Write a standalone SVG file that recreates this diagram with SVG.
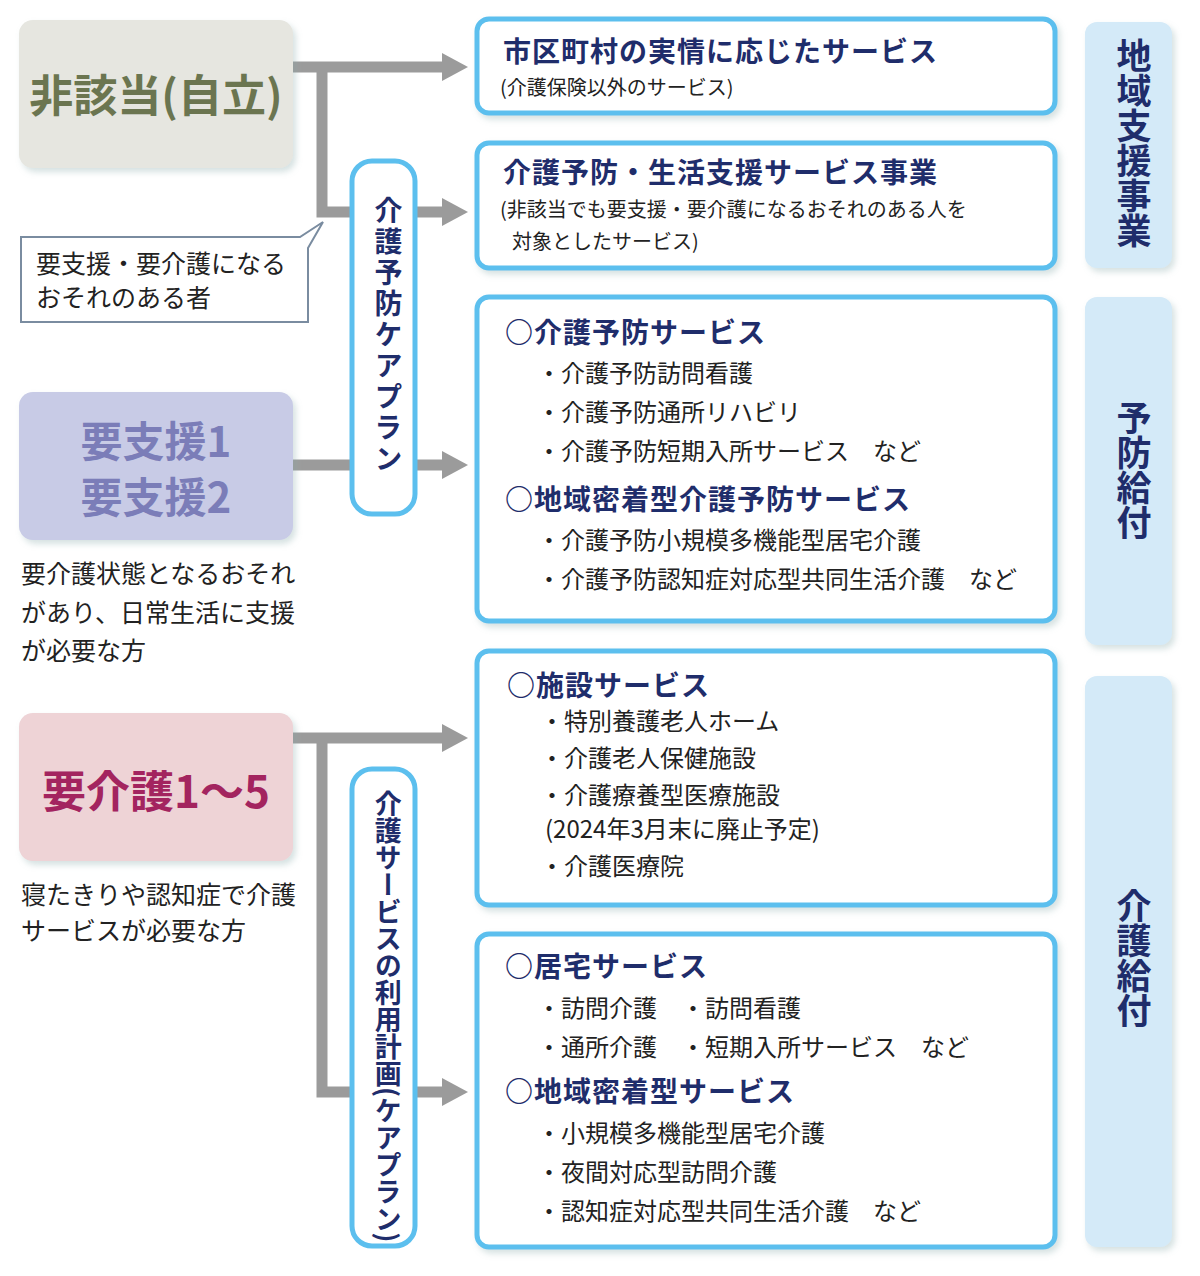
<svg xmlns="http://www.w3.org/2000/svg" width="1200" height="1276" viewBox="0 0 1200 1276">
<style>
text{font-family:"Noto Sans CJK JP","Noto Sans",sans-serif}
.ln{fill:none;stroke:#9b9b9b;stroke-width:11}
.ah{fill:#9b9b9b}
.box{fill:#fff;stroke:#5cbfee;stroke-width:5}
.pill{fill:#fff;stroke:#5cbfee;stroke-width:5}
.side{fill:#d4eaf8}
.t{font-size:28px;font-weight:bold;fill:#1f2d6b;letter-spacing:1px}
.s{font-size:20px;fill:#222}
.i{font-size:24px;fill:#222}
.v{font-size:28px;font-weight:bold;fill:#1f2d6b}
.sv{font-size:35px;font-weight:bold;fill:#1f2d6b}
.d{font-size:25px;fill:#222}
</style>
<defs>
<filter id="sh" x="-10%" y="-10%" width="130%" height="130%"><feDropShadow dx="3" dy="4" stdDeviation="3" flood-color="#8aa" flood-opacity="0.35"/></filter>
</defs>
<g id="connectors">
<path class="ln" d="M293 67H444M322 67V212H444"/>
<polygon class="ah" points="442,53 468,67 442,81"/>
<polygon class="ah" points="442,198 468,212 442,226"/>
<path class="ln" d="M293 465H444"/>
<polygon class="ah" points="442,451 468,465 442,479"/>
<path class="ln" d="M293 738H444M322 738V1092H444"/>
<polygon class="ah" points="442,724 468,738 442,752"/>
<polygon class="ah" points="442,1078 468,1092 442,1106"/>
</g>
<g id="hi">
<rect x="19" y="20" width="274" height="148" rx="14" fill="#e6e6e0" filter="url(#sh)"/>
<text x="156" y="112" text-anchor="middle" font-size="44" font-weight="bold" fill="#6b7550">非該当(自立)</text>
</g>
<g id="callout">
<path d="M21 237H300L323 222L308 248V322H21Z" fill="#fff" stroke="#7a8ca0" stroke-width="2"/>
<text x="36" y="273" class="d">要支援・要介護になる</text>
<text x="36" y="307" class="d">おそれのある者</text>
</g>
<g id="yoshien">
<rect x="19" y="392" width="274" height="148" rx="14" fill="#c8cbe6" filter="url(#sh)"/>
<text x="156" y="457" text-anchor="middle" font-size="42" font-weight="bold" fill="#7b7db8">要支援1</text>
<text x="156" y="513" text-anchor="middle" font-size="42" font-weight="bold" fill="#7b7db8">要支援2</text>
<text x="21" y="583" class="d">要介護状態となるおそれ</text>
<text x="21" y="622" class="d">があり、日常生活に支援</text>
<text x="21" y="660" class="d">が必要な方</text>
</g>
<g id="yokaigo">
<rect x="19" y="713" width="274" height="148" rx="14" fill="#eed3d6" filter="url(#sh)"/>
<text x="156" y="808" text-anchor="middle" font-size="44" font-weight="bold" fill="#a3245f">要介護1〜5</text>
<text x="21" y="904" class="d">寝たきりや認知症で介護</text>
<text x="21" y="940" class="d">サービスが必要な方</text>
</g>
<g id="pill1">
<rect class="pill" x="352" y="161" width="63" height="353" rx="20"/>
<text x="384" y="196" class="v" style="writing-mode:vertical-rl;letter-spacing:3px" dominant-baseline="middle">介護予防ケアプラン</text>
</g>
<g id="pill2">
<rect class="pill" x="352" y="769" width="63" height="477" rx="20"/>
<text x="384" y="790" class="v" style="writing-mode:vertical-rl;font-size:27px" dominant-baseline="middle">介護サービスの利用計画(ケアプラン)</text>
</g>
<g id="b1">
<rect class="box" x="477" y="19" width="578" height="94" rx="12" filter="url(#sh)"/>
<text x="503" y="62" class="t">市区町村の実情に応じたサービス</text>
<text x="500" y="95" class="s">(介護保険以外のサービス)</text>
</g>
<g id="b2">
<rect class="box" x="477" y="143" width="578" height="125" rx="12" filter="url(#sh)"/>
<text x="503" y="183" class="t">介護予防・生活支援サービス事業</text>
<text x="500" y="217" class="s">(非該当でも要支援・要介護になるおそれのある人を</text>
<text x="512" y="249" class="s">対象としたサービス)</text>
</g>
<g id="b3">
<rect class="box" x="477" y="297" width="578" height="324" rx="12" filter="url(#sh)"/>
<text x="505" y="343" class="t">○介護予防サービス</text>
<text x="537" y="382" class="i">・介護予防訪問看護</text>
<text x="537" y="421" class="i">・介護予防通所リハビリ</text>
<text x="537" y="460" class="i">・介護予防短期入所サービス　など</text>
<text x="505" y="510" class="t">○地域密着型介護予防サービス</text>
<text x="537" y="549" class="i">・介護予防小規模多機能型居宅介護</text>
<text x="537" y="588" class="i">・介護予防認知症対応型共同生活介護　など</text>
</g>
<g id="b4">
<rect class="box" x="477" y="651" width="578" height="254" rx="12" filter="url(#sh)"/>
<text x="507" y="696" class="t">○施設サービス</text>
<text x="540" y="730" class="i">・特別養護老人ホーム</text>
<text x="540" y="767" class="i">・介護老人保健施設</text>
<text x="540" y="804" class="i">・介護療養型医療施設</text>
<text x="545" y="838" class="i">(2024年3月末に廃止予定)</text>
<text x="540" y="875" class="i">・介護医療院</text>
</g>
<g id="b5">
<rect class="box" x="477" y="934" width="578" height="313" rx="12" filter="url(#sh)"/>
<text x="505" y="977" class="t">○居宅サービス</text>
<text x="537" y="1017" class="i">・訪問介護　・訪問看護</text>
<text x="537" y="1056" class="i">・通所介護　・短期入所サービス　など</text>
<text x="505" y="1102" class="t">○地域密着型サービス</text>
<text x="537" y="1142" class="i">・小規模多機能型居宅介護</text>
<text x="537" y="1181" class="i">・夜間対応型訪問介護</text>
<text x="537" y="1220" class="i">・認知症対応型共同生活介護　など</text>
</g>
<g id="s1">
<rect class="side" x="1085" y="22" width="87" height="246" rx="12" filter="url(#sh)"/>
<text x="1128" y="38" class="sv" style="writing-mode:vertical-rl" dominant-baseline="middle">地域支援事業</text>
</g>
<g id="s2">
<rect class="side" x="1085" y="297" width="87" height="348" rx="12" filter="url(#sh)"/>
<text x="1128" y="400" class="sv" style="writing-mode:vertical-rl" dominant-baseline="middle">予防給付</text>
</g>
<g id="s3">
<rect class="side" x="1085" y="676" width="87" height="571" rx="12" filter="url(#sh)"/>
<text x="1128" y="888" class="sv" style="writing-mode:vertical-rl" dominant-baseline="middle">介護給付</text>
</g>
</svg>
